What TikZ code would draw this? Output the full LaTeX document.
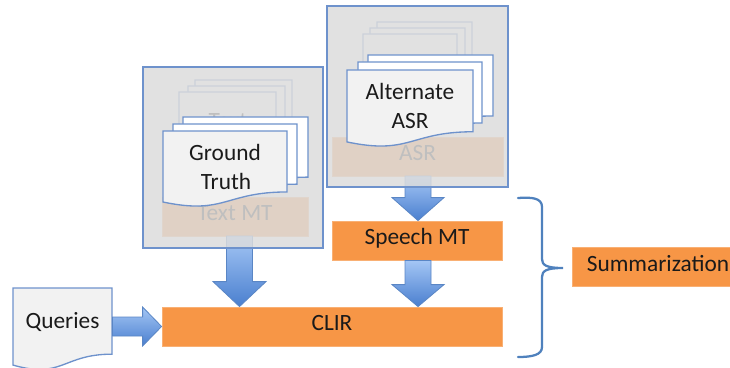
\documentclass[tikz,border=0pt]{standalone}
\usepackage{fontspec}
\setmainfont{Carlito}
\usetikzlibrary{calc}
\definecolor{orangec}{HTML}{F79646}
\definecolor{docfill}{HTML}{F2F2F2}
\definecolor{docline}{HTML}{6E92CC}
\definecolor{overlayc}{HTML}{DCDCDC}
\definecolor{arrowtop}{HTML}{A4C6F5}
\definecolor{arrowbot}{HTML}{4A7FCF}
\definecolor{arrowline}{HTML}{5A86C5}
\definecolor{bracec}{HTML}{4F81BD}
\definecolor{textc}{HTML}{1A1A1A}
\tikzset{
  every node/.style={font=\fontsize{17.5}{21}\selectfont, text=textc, inner sep=0pt},
  orangebox/.style={fill=orangec, draw=orangec!75!white, line width=0.6pt, text height=0.644em, text depth=0pt},
  frontdoc/.style={fill=docfill, draw=docline, line width=1pt},
  backdoc/.style={fill=white, draw=docline, line width=1pt},
  overlaybox/.style={fill=overlayc, fill opacity=0.85, draw=docline, line width=1.1pt},
  blockarrow/.style={top color=arrowtop, bottom color=arrowbot, draw=arrowline, line width=0.6pt},
  bracestyle/.style={draw=bracec, line width=1.7pt, line cap=round},
}
% document shape: style, x, y, w, h
\newcommand\docat[5]{%
  \path[#1] (#2,#3) -- ({#2+#4},#3) -- ({#2+#4},{#3+0.802*#5})
    .. controls ({#2+0.5*#4},{#3+0.802*#5}) and ({#2+0.5*#4},{#3+1.1075*#5}) .. (#2,{#3+0.934*#5}) -- cycle;}
% block arrow pointing down: start, tip, head length, shaft half width, head half width
\newcommand\blkdown[5]{%
  \path[blockarrow] ($(#1)+(-#4,0)$) -- ($(#1)+(#4,0)$) -- ($(#2)+(#4,-#3)$) -- ($(#2)+(#5,-#3)$)
    -- (#2) -- ($(#2)+(-#5,-#3)$) -- ($(#2)+(-#4,-#3)$) -- cycle;}
% block arrow pointing right
\newcommand\blkright[5]{%
  \path[blockarrow] ($(#1)+(0,-#4)$) -- ($(#2)+(-#3,-#4)$) -- ($(#2)+(-#3,-#5)$)
    -- (#2) -- ($(#2)+(-#3,#5)$) -- ($(#2)+(-#3,#4)$) -- ($(#1)+(0,#4)$) -- cycle;}
\begin{document}
\begin{tikzpicture}[x=0.75pt,y=-0.75pt]
\useasboundingbox (0,0) rectangle (730,367);
% ---- faded documents (under overlays)
\docat{backdoc}{195}{80}{97}{62}
\docat{backdoc}{188}{86}{97}{62}
\docat{backdoc}{179}{92}{97}{62}
\node[anchor=base] (fadetext) at (228,128.5) {Text};
\docat{backdoc}{377}{22}{95}{62}
\docat{backdoc}{370}{28}{95}{62}
\docat{backdoc}{363}{34}{94}{62}
% ---- faded bands
\node[orangebox, minimum width=146*0.75pt, minimum height=39*0.75pt] (tmt) at (235,216.5) {Text MT};
\node[orangebox, minimum width=171*0.75pt, minimum height=39*0.75pt] (asr) at (417.5,156.5) {ASR};
% ---- lower boxes
\node[orangebox, minimum width=170*0.75pt, minimum height=39*0.75pt] (speech) at (417,240.5) {Speech MT};
\node[orangebox, minimum width=340*0.75pt, minimum height=39*0.75pt] (clir) at (332,326.5) {CLIR};
\node[orangebox, minimum width=172*0.75pt, minimum height=39.5*0.75pt] (summ) at (658,267) {Summarization};
% ---- arrows starting under overlays
\coordinate (a1s) at (239.5,236);
\coordinate (a1t) at (a1s |- clir.north);
\blkdown{a1s}{a1t}{25}{13}{26.5}
\coordinate (a2s) at (418,176);
\coordinate (a2t) at (a2s |- speech.north);
\blkdown{a2s}{a2t}{23}{13}{26}
% ---- overlays
\path[overlaybox] (143,67) rectangle (323,248);
\path[overlaybox] (327,6) rectangle (508,187);
% ---- bright documents
\docat{backdoc}{183}{117}{125}{75}
\docat{backdoc}{173}{124}{124}{75}
\docat{frontdoc}{163}{131}{124}{76}
\node[anchor=base] (gt1) at (225,160) {Ground};
\node[anchor=base] (gt2) at (226,189) {Truth};
\docat{backdoc}{368}{55}{125}{76}
\docat{backdoc}{358}{62}{124}{76}
\docat{frontdoc}{347}{70}{126}{77}
\node[anchor=base] (alt1) at (410,100) {Alternate};
\node[anchor=base] (alt2) at (410,128) {ASR};
% ---- queries
\docat{frontdoc}{13}{288}{99}{82.5}
\node[anchor=base] (queries) at (62.5,328.3) {Queries};
\coordinate (a4s) at (112.5,326.5);
\blkright{a4s}{clir.west}{19}{9.5}{19.5}
% ---- speech MT to CLIR
\coordinate (a3s) at (418,0 |- speech.south);
\coordinate (a3t) at (a3s |- clir.north);
\blkdown{a3s}{a3t}{22}{13}{26}
% ---- brace
\coordinate (brtop) at (518,198);
\coordinate (brtip) at (563,268);
\coordinate (brbot) at (518,357);
\path[bracestyle] (brtop) .. controls (532,197) and (542,198) .. (542,207) -- (542,259)
  .. controls (542,265) and (546,268) .. (brtip)
  .. controls (546,268) and (542,271) .. (542,277) -- (542,347)
  .. controls (542,355) and (532,357) .. (brbot);
\end{tikzpicture}
\end{document}
